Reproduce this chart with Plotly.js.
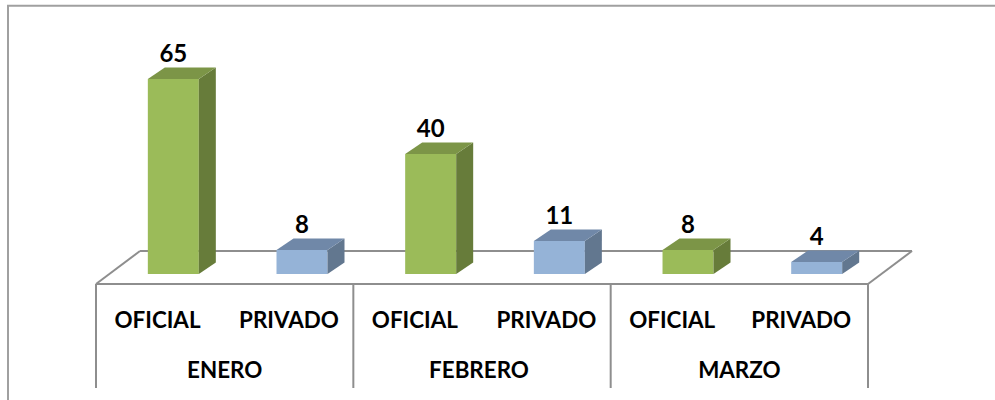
<!DOCTYPE html>
<html><head><meta charset="utf-8">
<script src="https://cdn.plot.ly/plotly-3.0.1.min.js"></script>
<style>html,body{margin:0;padding:0;background:#fff}</style></head>
<body><div id="chart" style="width:995px;height:400px"></div>
<script>
const months = ["ENERO", "FEBRERO", "MARZO"];
const categories = ["OFICIAL","PRIVADO","OFICIAL","PRIVADO","OFICIAL","PRIVADO"];
const values = [65, 8, 40, 11, 8, 4];
const barSectors = [0, 1, 0, 1, 0, 1];

const frontColors = ["#9BBB59", "#95B3D7"];
const sideColors = ["#677C3A", "#62778F"];
const topColors = ["#7C9547", "#7088A8"];

// Axes are scaled so one category is one x unit, one value unit is one y unit
const PW = 995, PH = 400;
const pxPerCat = 128.67, pxPerVal = 3;
const x0px = 96, y0px = 274;
const xRange = [-x0px / pxPerCat, (PW - x0px) / pxPerCat];
const yRange = [(y0px - PH) / pxPerVal, y0px / pxPerVal];
const dpx = v => v / pxPerCat, dpy = v => v / pxPerVal;

const barW = dpx(51), depthX = dpx(17), depthY = dpy(11.5);
const barShift = dpx(13);
const centers = values.map((_, i) => i + 0.5 + barShift);

const traces = [];
// front faces
traces.push({type: "bar", x: centers, y: values, width: barW,
  marker: {color: barSectors.map(s => frontColors[s]), line: {width: 0}},
  hoverinfo: "skip", showlegend: false});
// side and top faces derived from the values
values.forEach((v, i) => {
  const l = centers[i] - barW / 2, r = centers[i] + barW / 2, s = barSectors[i];
  traces.push({type: "scatter", mode: "lines", fill: "toself", line: {width: 0},
    fillcolor: sideColors[s], hoverinfo: "skip", showlegend: false,
    x: [r, r + depthX, r + depthX, r, r], y: [0, depthY, v + depthY, v, 0]});
  traces.push({type: "scatter", mode: "lines", fill: "toself", line: {width: 0},
    fillcolor: topColors[s], hoverinfo: "skip", showlegend: false,
    x: [l, l + depthX, r + depthX, r, l], y: [v, v + depthY, v + depthY, v, v]});
});
const font = {family: "Lato, Carlito, sans-serif", size: 22.4, color: "#000", weight: 700};
// value labels
traces.push({type: "scatter", mode: "text", x: centers, y: values.map(v => v + dpy(23)),
  text: values.map(String), textposition: "middle center",
  textfont: Object.assign({}, font, {size: 24}), hoverinfo: "skip", showlegend: false});
// sector labels
const sectorNudge = [-2.8, 0, -2.8, 0, -2.8, -2.5];
traces.push({type: "scatter", mode: "text", x: categories.map((_, i) => i + 0.5 + dpx(sectorNudge[i])),
  y: categories.map(() => dpy(274 - 322)),
  text: categories, textposition: "middle center",
  textfont: font, hoverinfo: "skip", showlegend: false});
// month labels
const monthNudge = [0, -3, 0];
traces.push({type: "scatter", mode: "text", x: months.map((_, i) => 2 * i + 1 + dpx(monthNudge[i])),
  y: months.map(() => dpy(274 - 372)),
  text: months, textposition: "middle center",
  textfont: font, hoverinfo: "skip", showlegend: false});

const gridLine = {color: "#8E8E8E", width: 2};
const floorFront = dpy(274 - 284), floorBack = dpy(274 - 251), axisBottom = dpy(274 - 388);
const floorDx = dpx(44);
const ln = (x0, y0, x1, y1) => ({type: "line", xref: "x", yref: "y", x0, y0, x1, y1, line: gridLine, layer: "below"});
const shapes = [
  ln(0, floorFront, 6, floorFront),
  ln(floorDx, floorBack, 6 + floorDx, floorBack),
  ln(0, floorFront, floorDx, floorBack),
  ln(6, floorFront, 6 + floorDx, floorBack),
];
months.forEach((_, i) => shapes.push(ln(2 * i, floorFront, 2 * i, axisBottom)));
shapes.push(ln(6, floorFront, 6, axisBottom));
// outer chart frame runs off the right and bottom of the picture
shapes.push({type: "rect", xref: "paper", yref: "paper", x0: 8 / PW, x1: 1010 / PW, y0: 1 - 420 / PH, y1: 1 - 5.7 / PH,
  line: {color: "#A0A0A0", width: 2}, layer: "below"});

Plotly.newPlot("chart", traces, {
  width: PW, height: PH, margin: {l: 0, r: 0, t: 0, b: 0},
  paper_bgcolor: "#fff", plot_bgcolor: "rgba(0,0,0,0)", showlegend: false, barmode: "overlay",
  xaxis: {range: xRange, visible: false, fixedrange: true},
  yaxis: {range: yRange, visible: false, fixedrange: true},
  shapes
}, {displayModeBar: false, staticPlot: true});
</script></body></html>
